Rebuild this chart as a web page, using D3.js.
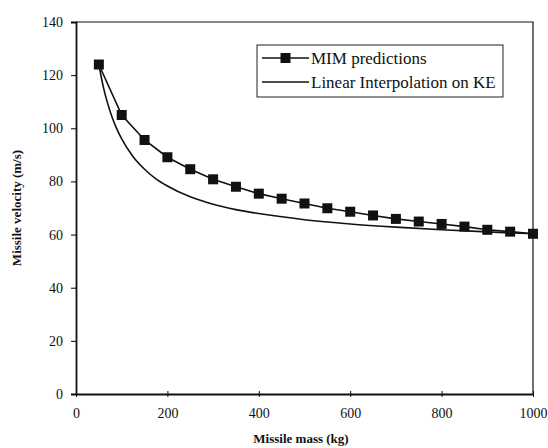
<!DOCTYPE html>
<html>
<head>
<meta charset="utf-8">
<script src="https://cdn.jsdelivr.net/npm/d3@7"></script>
<style>
	body { margin: 0; background: #fff; }
	svg text { font-family: "Liberation Serif", "DejaVu Serif", serif; fill: #111; }
</style>
</head>
<body>
<svg id="chart"></svg>
<script>
(function(){
	// Data
	const mimMass = [50, 100, 150, 200, 250, 300, 350, 400, 450, 500, 550, 600, 650, 700, 750, 800, 850, 900, 950, 1000];
	const mimVelocity = [124, 105, 95.6, 89.1, 84.6, 80.8, 78, 75.4, 73.5, 71.7, 69.9, 68.6, 67.2, 65.9, 64.9, 64, 63, 61.8, 61.1, 60.3];

	const keMass = [50, 60, 70, 80, 90, 100, 125, 150, 175, 200, 250, 300, 350, 400, 500, 600, 700, 800, 900, 1000];
	const keVelocity = [124, 115.4, 108.9, 103.7, 99.5, 96, 89.3, 84.6, 81, 78.3, 74.2, 71.4, 69.4, 67.9, 65.6, 64, 62.8, 61.8, 61, 60.3];

	const xTicks = [0, 200, 400, 600, 800, 1000];
	const yTicks = [0, 20, 40, 60, 80, 100, 120, 140];

	const legendLabels = ["MIM predictions", "Linear Interpolation on KE"];

	///////////////////////////////////////////////////////////////////
	const W = 548, H = 448;
	const margin = {top: 22, right: 15, bottom: 54, left: 76};
	const width = W - margin.left - margin.right;
	const height = H - margin.top - margin.bottom;
	const serif = "'Liberation Serif', 'DejaVu Serif', serif";

	const svg = d3.select("#chart")
			.attr("width", W)
			.attr("height", H);

	const g = svg.append("g")
			.attr("transform", `translate(${margin.left}, ${margin.top})`);

	const x = d3.scaleLinear().domain([0, 1000]).range([0, width]);
	const y = d3.scaleLinear().domain([0, 140]).range([height, 0]);

	// frame (top and right)
	g.append("path")
			.attr("d", `M0,0H${width}V${height}`)
			.style("fill", "none")
			.style("stroke", "#111")
			.style("stroke-width", 1.2);

	// axes
	const xAxis = g.append("g")
			.attr("transform", `translate(0, ${height})`)
			.call(d3.axisBottom(x).tickValues(xTicks).tickFormat(d3.format("d")).tickSize(0).tickPadding(14));
	xAxis.selectAll(".tick").append("line")
			.attr("y1", -3).attr("y2", 3)
			.style("stroke", "#111");

	const yAxis = g.append("g")
			.call(d3.axisLeft(y).tickValues(yTicks).tickSize(5).tickPadding(8));

	[xAxis, yAxis].forEach(a => {
		a.attr("font-family", null);
		a.select(".domain").style("stroke", "#111").style("stroke-width", 1.8);
		a.selectAll("text")
				.style("font-family", serif)
				.style("font-size", "14px")
				.style("fill", "#111");
	});

	// lines
	const keLine = d3.line()
			.x((d, i) => x(keMass[i]))
			.y(d => y(d))
			.curve(d3.curveMonotoneX);

	g.append("path")
			.attr("d", keLine(keVelocity))
			.style("fill", "none")
			.style("stroke", "#111")
			.style("stroke-width", 1.6);

	const mimLine = d3.line()
			.x((d, i) => x(mimMass[i]))
			.y(d => y(d));

	g.append("path")
			.attr("d", mimLine(mimVelocity))
			.style("fill", "none")
			.style("stroke", "#111")
			.style("stroke-width", 1.6);

	const sq = 10;
	g.selectAll(".sq")
		.data(mimVelocity)
		.enter().append("rect")
			.attr("class", "sq")
			.attr("x", (d, i) => x(mimMass[i]) - sq / 2)
			.attr("y", d => y(d) - sq / 2)
			.attr("width", sq)
			.attr("height", sq)
			.style("fill", "#111");

	// axis titles
	svg.append("text")
			.attr("x", 301)
			.attr("y", 443)
			.attr("text-anchor", "middle")
			.style("font-family", serif)
			.style("font-weight", "bold")
			.style("font-size", "13px")
			.text("Missile mass (kg)");

	svg.append("text")
			.attr("transform", "translate(21, 208) rotate(-90)")
			.attr("text-anchor", "middle")
			.style("font-family", serif)
			.style("font-weight", "bold")
			.style("font-size", "13px")
			.text("Missile velocity (m/s)");

	// legend
	const legend = svg.append("g")
			.attr("transform", "translate(257, 45)");

	legend.append("rect")
			.attr("width", 246)
			.attr("height", 52)
			.style("fill", "#fff")
			.style("stroke", "#222")
			.style("stroke-width", 1);

	const rowY = [13, 37];
	legendLabels.forEach((label, i) => {
		legend.append("line")
				.attr("x1", 5).attr("x2", 52)
				.attr("y1", rowY[i]).attr("y2", rowY[i])
				.style("stroke", "#111")
				.style("stroke-width", 1.6);
		if (i === 0) {
			legend.append("rect")
					.attr("x", 28.5 - sq / 2)
					.attr("y", rowY[i] - sq / 2)
					.attr("width", sq).attr("height", sq)
					.style("fill", "#111");
		}
		legend.append("text")
				.attr("x", 54)
				.attr("y", rowY[i])
				.attr("dy", "0.35em")
				.style("font-family", serif)
				.style("font-size", "17px")
				.text(label);
	});
}());
</script>
</body>
</html>
